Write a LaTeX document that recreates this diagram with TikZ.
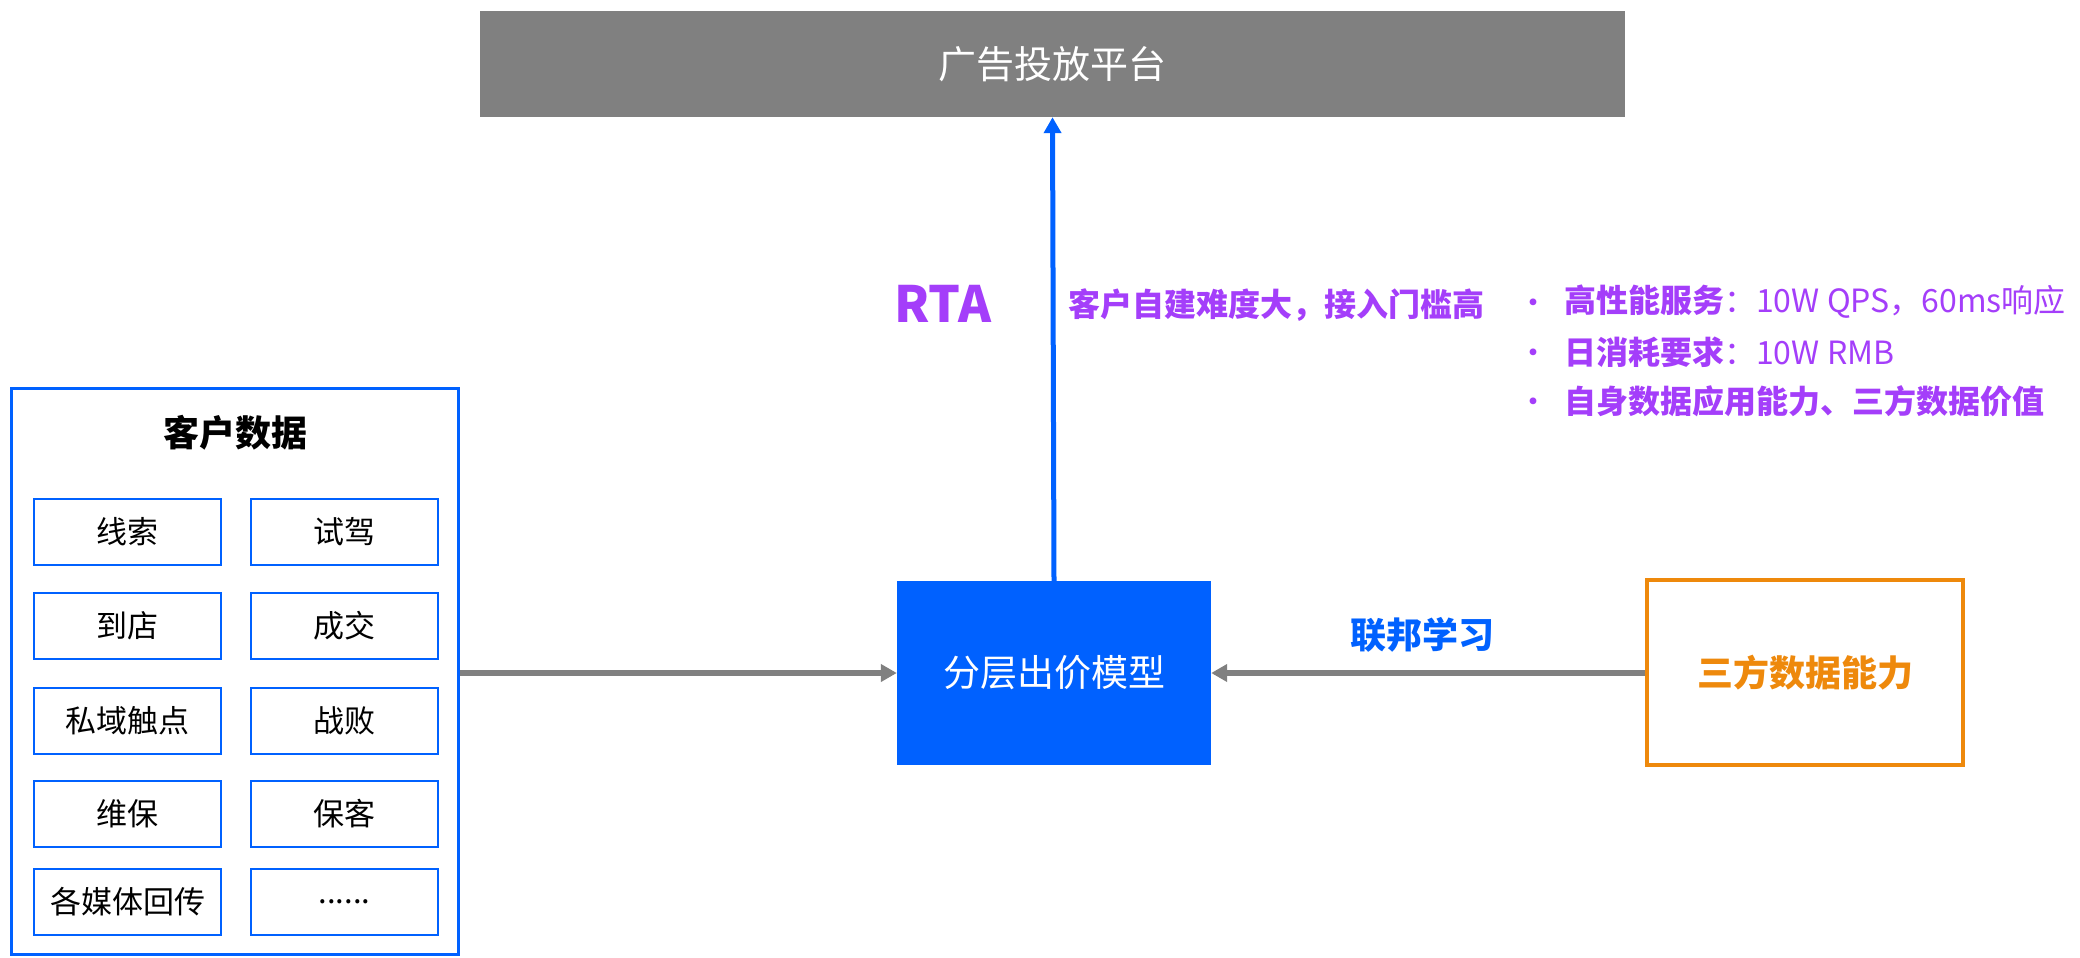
\documentclass[tikz,border=0pt]{standalone}
\usepackage{fontspec}
\setmainfont{Noto Sans CJK SC}
\usetikzlibrary{arrows.meta}
\definecolor{myblue}{RGB}{0,97,255}
\definecolor{mygray}{RGB}{128,128,128}
\definecolor{mypurple}{RGB}{164,62,250}
\definecolor{myorange}{RGB}{238,137,12}
\newcommand{\fsz}[1]{\fontsize{#1pt}{#1pt}\selectfont}
\tikzset{
  inbox/.style={draw=myblue, line width=2.5pt, minimum width=187pt, minimum height=66pt, inner sep=0pt, font=\fsz{31}},
  conn/.style={draw=mygray, line width=6pt, -{Triangle[length=16pt,width=17pt]}},
  upconn/.style={draw=myblue, line width=5pt, -{Triangle[length=16pt,width=17pt]}},
  ptxt/.style={text=mypurple, inner sep=0pt, font=\fsz{32}},
}
\begin{document}
\begin{tikzpicture}[x=1pt,y=-1pt]
\useasboundingbox[fill=white] (0,0) rectangle (2080,958);

% top platform
\node[fill=mygray, minimum width=1145pt, minimum height=106pt, inner sep=0pt,
      text=white, font=\fsz{38}] (plat) at (1052.5,64) {广告投放平台};

% center model
\node[fill=myblue, minimum width=314pt, minimum height=184pt, inner sep=0pt,
      text=white, font=\fsz{37}] (mid) at (1054,673) {分层出价模型};

% third party
\node[draw=myorange, line width=4pt, minimum width=316pt, minimum height=185pt, inner sep=0pt,
      text=myorange, font=\bfseries\fsz{36}] (third) at (1805,672.5) {三方数据能力};

% customer data
\node[draw=myblue, line width=3pt, minimum width=447pt, minimum height=566pt, inner sep=0pt] (cust) at (235,671.5) {};
\node[font=\bfseries\fsz{36}, inner sep=0pt] (custt) at (235,433) {客户数据};

\node[inbox] (a1) at (127.5,532) {线索};
\node[inbox] (b1) at (344.5,532) {试驾};
\node[inbox] (a2) at (127.5,626) {到店};
\node[inbox] (b2) at (344.5,626) {成交};
\node[inbox] (a3) at (127.5,721) {私域触点};
\node[inbox] (b3) at (344.5,721) {战败};
\node[inbox] (a4) at (127.5,814) {维保};
\node[inbox] (b4) at (344.5,814) {保客};
\node[inbox] (a5) at (127.5,902) {各媒体回传};
\node[inbox] (b5) at (344.5,902) {......};

% connectors
\draw[conn] (cust.east |- mid.west) -- (mid.west);
\draw[conn] (third.west |- mid.east) -- (mid.east);
\draw[upconn] (mid.north) -- (plat.south);

% labels
\node[text=myblue, font=\bfseries\fsz{36}, inner sep=0pt] (fl) at (1422,635) {联邦学习};
\node[text=mypurple, font=\bfseries\fsz{50}, inner sep=0pt] (rta) at (943,304) {RTA};
\node[ptxt, font=\bfseries\fsz{32}, anchor=west] (hard) at (1068,305) {客户自建难度大，接入门槛高};

\node[ptxt, anchor=west] (l1) at (1564,302) {\textbf{高性能服务}：10W QPS，60ms响应};
\node[ptxt, anchor=west] (l2) at (1564,352) {\textbf{日消耗要求}：10W RMB};
\node[ptxt, anchor=west] (l3) at (1564,401) {\textbf{自身数据应用能力、三方数据价值}};
\node[ptxt, anchor=center] (d1) at (1533,307) {•};
\node[ptxt, anchor=center] (d2) at (1533,357) {•};
\node[ptxt, anchor=center] (d3) at (1533,406) {•};
\end{tikzpicture}
\end{document}
